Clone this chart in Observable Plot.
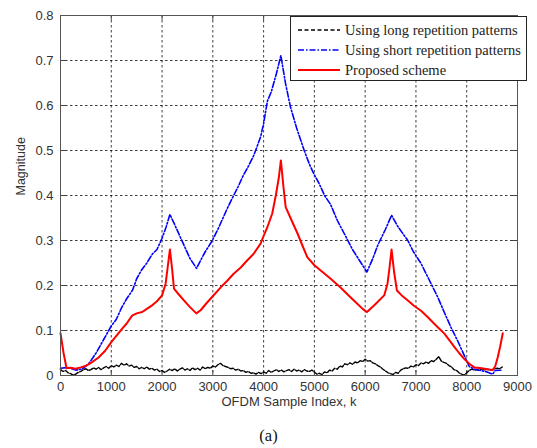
<!DOCTYPE html>
<html><head><meta charset="utf-8">
<script src="https://cdn.jsdelivr.net/npm/d3@7"></script>
<script src="https://cdn.jsdelivr.net/npm/@observablehq/plot@0.6"></script>
<style>
body{margin:0;background:#fff;}
#wrap{position:relative;width:537px;height:448px;overflow:hidden;}
#cap{position:absolute;left:0;width:537px;top:426px;text-align:center;font-family:"Liberation Serif",serif;font-size:16.5px;color:#111;}
#legend{position:absolute;left:290px;top:16px;}
</style>
</head><body>
<div id="wrap"><div id="chart"></div><div id="legend"></div><div id="cap">(a)</div></div>
<script>
const xTicks = [0,1000,2000,3000,4000,5000,6000,7000,8000,9000];
const yTicks = [0,0.1,0.2,0.3,0.4,0.5,0.6,0.7,0.8];
const seriesNames = ["Using long repetition patterns","Using short repetition patterns","Proposed scheme"];

const blueK = [0,150,300,420,550,700,850,1000,1100,1200,1300,1420,1500,1600,1700,1810,1900,2000,2080,2155,2250,2350,2450,2550,2680,2760,2850,2990,3100,3200,3300,3410,3500,3600,3700,3810,3940,4000,4075,4150,4250,4340,4430,4530,4650,4800,4900,4990,5100,5200,5320,5450,5590,5750,5920,6035,6150,6250,6400,6520,6650,6840,6950,7100,7250,7430,7560,7690,7830,7970,8050,8150,8280,8400,8510,8560,8710];
const blueV = [0.016,0.018,0.012,0.014,0.025,0.05,0.08,0.11,0.125,0.15,0.17,0.19,0.215,0.235,0.25,0.27,0.28,0.305,0.33,0.358,0.335,0.31,0.285,0.26,0.238,0.256,0.275,0.30,0.325,0.35,0.375,0.40,0.42,0.445,0.465,0.49,0.53,0.56,0.61,0.63,0.67,0.711,0.65,0.596,0.55,0.50,0.47,0.448,0.425,0.40,0.38,0.345,0.315,0.28,0.25,0.23,0.26,0.29,0.325,0.356,0.33,0.30,0.275,0.249,0.215,0.174,0.14,0.107,0.075,0.04,0.02,0.014,0.011,0.008,0.003,0.011,0.012];

const redK = [0,60,120,200,300,400,490,600,750,880,1000,1100,1215,1300,1410,1500,1610,1700,1805,1900,2000,2070,2110,2155,2195,2235,2330,2430,2550,2675,2760,2870,2990,3155,3280,3410,3550,3680,3800,3940,4000,4075,4170,4240,4300,4340,4390,4435,4550,4670,4760,4860,5000,5130,5320,5520,5700,5850,5950,6035,6180,6375,6440,6480,6520,6570,6625,6720,6835,6960,7100,7230,7360,7460,7560,7660,7760,7850,7950,8050,8150,8300,8400,8510,8560,8610,8660,8710];
const redV = [0.094,0.05,0.016,0.017,0.015,0.018,0.021,0.028,0.04,0.055,0.074,0.088,0.104,0.115,0.133,0.138,0.141,0.148,0.156,0.165,0.178,0.204,0.24,0.28,0.24,0.193,0.18,0.167,0.152,0.138,0.145,0.16,0.175,0.196,0.21,0.226,0.24,0.256,0.27,0.293,0.31,0.33,0.36,0.40,0.44,0.478,0.42,0.374,0.345,0.315,0.29,0.263,0.245,0.233,0.215,0.195,0.175,0.159,0.148,0.141,0.156,0.178,0.204,0.24,0.28,0.23,0.189,0.178,0.167,0.155,0.144,0.13,0.115,0.104,0.093,0.078,0.063,0.05,0.037,0.026,0.018,0.016,0.014,0.012,0.02,0.04,0.065,0.094];

const blackStep = 50;
const blackV = [0.013,0.009,0.011,0.006,0.004,0.001,0.003,0.007,0.009,0.013,0.015,0.011,0.013,0.017,0.014,0.018,0.013,0.017,0.02,0.016,
0.022,0.019,0.023,0.02,0.027,0.023,0.026,0.021,0.023,0.018,0.02,0.015,0.018,0.015,0.019,0.014,0.016,0.012,0.014,0.009,
0.011,0.007,0.01,0.014,0.011,0.015,0.01,0.014,0.017,0.012,0.015,0.011,0.017,0.013,0.016,0.012,0.019,0.015,0.018,0.016,
0.021,0.019,0.024,0.027,0.022,0.02,0.018,0.015,0.016,0.012,0.014,0.01,0.011,0.007,0.009,0.005,0.006,0.003,0.007,0.004,
0.008,0.005,0.011,0.007,0.01,0.013,0.009,0.012,0.008,0.011,0.013,0.009,0.014,0.01,0.012,0.008,0.013,0.01,0.009,0.012,
0.008,0.003,0.005,0.002,0.008,0.006,0.012,0.01,0.016,0.014,0.021,0.019,0.026,0.024,0.028,0.025,0.03,0.028,0.033,0.031,
0.036,0.032,0.033,0.028,0.026,0.022,0.019,0.014,0.01,0.006,0.004,0.002,0.007,0.005,0.012,0.015,0.017,0.016,0.021,0.019,
0.024,0.022,0.028,0.026,0.03,0.027,0.033,0.031,0.036,0.042,0.032,0.029,0.027,0.022,0.019,0.013,0.011,0.006,0.003,0.001,
0.006,0.011,0.014,0.012,0.013,0.011,0.015,0.012,0.014,0.013,0.012,0.015,0.016,0.015,0.019];

const black = blackV.map((v,i)=>({k:i*blackStep, v}));
const blue = blueK.map((k,i)=>({k, v:blueV[i]}));
const red = redK.map((k,i)=>({k, v:redV[i]}));

const xGrid = xTicks.slice(1,-1), yGrid = yTicks.slice(1,-1);
const gridStyle = {stroke:"#000", strokeWidth:0.9, strokeDasharray:"2.5,2.5", strokeOpacity:0.85};

const plot = Plot.plot({
  width:537, height:420,
  marginLeft:60, marginRight:20, marginTop:15, marginBottom:45,
  style:{fontFamily:"'Liberation Sans', Arial, sans-serif", fontSize:"13px", color:"#333", background:"white"},
  x:{domain:[0,9000], label:null},
  y:{domain:[0,0.8], label:null},
  marks:[
    Plot.ruleX(xGrid, {x:d=>d, ...gridStyle}),
    Plot.ruleY(yGrid, {y:d=>d, ...gridStyle}),
    Plot.axisX({ticks:xTicks, tickSize:0, tickPadding:6, tickFormat:d=>String(d), fontSize:13, fill:"#333"}),
    Plot.axisY({ticks:yTicks, tickSize:0, tickPadding:7, tickFormat:d=>d===0?"0":d.toFixed(1), fontSize:13, fill:"#333"}),
    Plot.ruleX(xTicks, {x:d=>d, y1:0, y2:0.011, stroke:"#444"}),
    Plot.ruleX(xTicks, {x:d=>d, y1:0.8, y2:0.789, stroke:"#444"}),
    Plot.ruleY(yTicks, {y:d=>d, x1:0, x2:100, stroke:"#444"}),
    Plot.ruleY(yTicks, {y:d=>d, x1:9000, x2:8900, stroke:"#444"}),
    Plot.line(black, {x:"k", y:"v", stroke:"#000", strokeWidth:1.4, strokeDasharray:"4,1.5"}),
    Plot.line(blue, {x:"k", y:"v", stroke:"#0000ff", strokeWidth:1.6, strokeDasharray:"6,2,1.5,2"}),
    Plot.line(red, {x:"k", y:"v", stroke:"#ff0000", strokeWidth:2}),
    Plot.frame({stroke:"#555", strokeWidth:1}),
    Plot.text(["Magnitude"], {text:d=>d, frameAnchor:"left", dx:-40, rotate:-90, fontSize:12.5, fill:"#333"}),
    Plot.text(["OFDM Sample Index, k"], {text:d=>d, frameAnchor:"bottom", dy:30, fontSize:13, fill:"#333"})
  ]
});
document.getElementById("chart").appendChild(plot);

// legend
const lw = 237, lh = 65;
const lsvg = d3.select("#legend").append("svg").attr("width", lw).attr("height", lh);
lsvg.append("rect").attr("x",0.5).attr("y",0.5).attr("width",lw-1).attr("height",lh-1).attr("fill","white").attr("stroke","#222").attr("stroke-width",1);
const lstyles = [
  {stroke:"#000", dash:"4,2.5", w:1.5},
  {stroke:"#0000ff", dash:"6,2,1.5,2", w:1.6},
  {stroke:"#ff0000", dash:null, w:2}
];
seriesNames.forEach((name,i)=>{
  const y = 14 + i*20;
  const ln = lsvg.append("line").attr("x1",8).attr("x2",50).attr("y1",y).attr("y2",y)
    .attr("stroke",lstyles[i].stroke).attr("stroke-width",lstyles[i].w);
  if (lstyles[i].dash) ln.attr("stroke-dasharray", lstyles[i].dash);
  lsvg.append("text").attr("x",55).attr("y",y).attr("dy","0.35em")
    .attr("font-family","'Liberation Serif', 'Times New Roman', serif").attr("font-size",14.5).attr("fill","#222").text(name);
});
</script>
</body></html>
